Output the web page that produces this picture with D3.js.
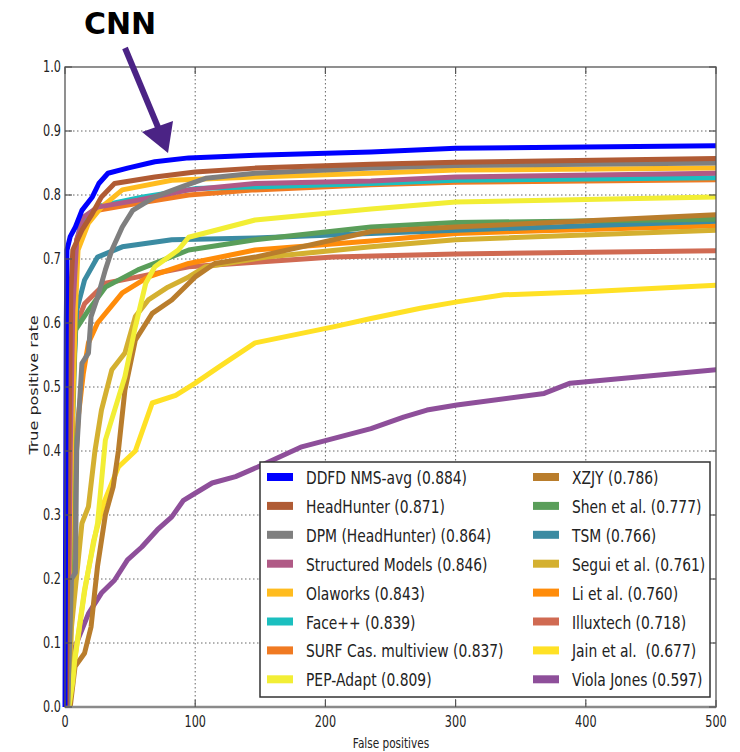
<!DOCTYPE html>
<html>
<head>
<meta charset="utf-8">
<script src="https://cdn.jsdelivr.net/npm/d3@7"></script>
<style>
  body { margin: 0; background: #fff; }
  text { font-family: "DejaVu Sans", sans-serif; fill: #222; }
</style>
</head>
<body>
<div id="container"></div>
<script>
// method names and their scores, in legend order
const methods = ["DDFD NMS-avg", "HeadHunter", "DPM (HeadHunter)", "Structured Models",
  "Olaworks", "Face++", "SURF Cas. multiview", "PEP-Adapt",
  "XZJY", "Shen et al.", "TSM", "Segui et al.",
  "Li et al.", "Illuxtech", "Jain et al. ", "Viola Jones"];
const scores = ["0.884", "0.871", "0.864", "0.846", "0.843", "0.839", "0.837", "0.809",
  "0.786", "0.777", "0.766", "0.761", "0.760", "0.718", "0.677", "0.597"];
const colors = ["#0000ff", "#b05b34", "#7f7f7f", "#b05a86", "#ffbc1f", "#1bbfbf", "#f07a22", "#f2ee35",
  "#b97d2c", "#5a9e5a", "#3b8ba2", "#d4b030", "#ff8c0a", "#d06a52", "#ffe125", "#8e4f9a"];

const xTicks = [0, 100, 200, 300, 400, 500];
const yTicks = [0, 0.1, 0.2, 0.3, 0.4, 0.5, 0.6, 0.7, 0.8, 0.9, 1.0];

// [false positives, true positive rate]
const ddfdCurve = [[0,0],[0.5,0.3],[1,0.6],[1.5,0.714],[4,0.735],[8,0.75],[13,0.776],[21,0.797],[26,0.818],[33,0.834],[48,0.842],[69,0.852],[95,0.858],[146,0.862],[235,0.867],[300,0.873],[400,0.875],[500,0.877]];
const headHunterCurve = [[1,0],[3,0.4],[4.5,0.65],[6,0.714],[13,0.745],[21,0.771],[28,0.797],[38,0.818],[69,0.828],[100,0.836],[146,0.842],[235,0.848],[300,0.851],[500,0.857]];
const dpmCurve = [[2,0],[4,0.13],[5,0.2],[8,0.21],[9,0.4],[13,0.537],[18,0.553],[20,0.61],[25,0.64],[31,0.683],[36,0.714],[44,0.75],[52,0.776],[69,0.797],[90,0.813],[108,0.826],[146,0.834],[235,0.842],[300,0.846],[500,0.85]];
const structuredCurve = [[2,0],[4,0.4],[6,0.62],[9,0.73],[14,0.765],[25,0.781],[56,0.792],[95,0.808],[146,0.818],[235,0.822],[300,0.828],[500,0.834]];
const olaworksCurve = [[2,0],[5,0.4],[8,0.62],[10,0.714],[18,0.756],[28,0.781],[44,0.808],[82,0.823],[146,0.828],[235,0.834],[300,0.839],[500,0.842]];
const faceppCurve = [[2,0],[4,0.5],[7,0.7],[12,0.755],[25,0.782],[60,0.797],[100,0.81],[235,0.818],[300,0.823],[500,0.827]];
const surfCurve = [[1,0],[3,0.4],[5,0.65],[9,0.73],[16,0.765],[25,0.776],[56,0.787],[95,0.8],[146,0.808],[235,0.816],[300,0.82],[500,0.824]];
const pepCurve = [[3,0],[6,0.04],[7.7,0.078],[15,0.183],[25,0.287],[31,0.417],[46,0.516],[54,0.594],[62,0.662],[69,0.688],[87,0.714],[95,0.734],[146,0.761],[235,0.778],[300,0.789],[500,0.797]];
const xzjyCurve = [[4,0],[7.7,0.063],[15,0.084],[20,0.125],[23,0.183],[25,0.22],[31,0.3],[37,0.344],[41,0.4],[46,0.495],[54,0.573],[67,0.615],[82,0.636],[100,0.672],[115,0.693],[146,0.703],[235,0.743],[300,0.75],[500,0.769]];
const shenCurve = [[2,0],[4,0.2],[6,0.45],[8,0.589],[18,0.62],[31,0.656],[56,0.683],[95,0.714],[146,0.73],[235,0.75],[300,0.757],[500,0.762]];
const tsmCurve = [[2,0],[4,0.3],[6,0.5],[9,0.62],[15,0.667],[25,0.703],[44,0.719],[82,0.73],[146,0.733],[235,0.74],[300,0.745],[500,0.759]];
const seguiCurve = [[3,0],[5,0.125],[13,0.287],[18,0.313],[23,0.4],[28,0.464],[36,0.527],[46,0.553],[54,0.61],[64,0.636],[79,0.656],[95,0.672],[108,0.688],[155,0.703],[235,0.719],[300,0.73],[500,0.745]];
const liCurve = [[2,0],[4,0.2],[7,0.33],[10,0.45],[14,0.52],[18,0.569],[25,0.6],[44,0.647],[64,0.672],[95,0.693],[146,0.714],[235,0.728],[300,0.74],[500,0.752]];
const illuxtechCurve = [[1,0],[3,0.3],[5,0.5],[8,0.594],[15,0.63],[31,0.662],[56,0.672],[95,0.688],[146,0.695],[206,0.703],[300,0.708],[500,0.713]];
const jainCurve = [[3,0],[8,0.08],[15,0.18],[22,0.26],[30,0.32],[41,0.375],[54,0.4],[67,0.475],[85,0.487],[100,0.506],[118,0.531],[146,0.569],[206,0.594],[235,0.607],[273,0.623],[301,0.633],[337,0.644],[401,0.649],[500,0.659]];
const violaCurve = [[3,0],[5,0.05],[7.7,0.094],[18,0.146],[28,0.178],[38,0.198],[48,0.23],[59,0.25],[71,0.277],[82,0.297],[91,0.323],[100,0.334],[113,0.35],[131,0.36],[148,0.375],[181,0.406],[235,0.435],[260,0.453],[278,0.464],[301,0.472],[368,0.49],[388,0.506],[500,0.527]];

const curves = [ddfdCurve, headHunterCurve, dpmCurve, structuredCurve, olaworksCurve, faceppCurve,
  surfCurve, pepCurve, xzjyCurve, shenCurve, tsmCurve, seguiCurve, liCurve, illuxtechCurve,
  jainCurve, violaCurve];

const width = 740;
const height = 752;
const plotLeft = 65, plotRight = 716, plotTop = 67, plotBottom = 707;
const squeeze = 0.75; // the original figure text is narrowed horizontally

const x = d3.scaleLinear().domain([0, 500]).range([plotLeft, plotRight]);
const y = d3.scaleLinear().domain([0, 1]).range([plotBottom, plotTop]);

const svg = d3.select("#container")
  .append("svg")
  .attr("width", width)
  .attr("height", height);

// text helper, narrowed horizontally
function label(g, tx, ty, str, size, anchor, rotate) {
  return g.append("text")
    .attr("transform", `translate(${tx},${ty})` + (rotate ? ` rotate(${rotate}) scale(1,${squeeze})` : ` scale(${squeeze},1)`))
    .attr("font-size", size)
    .attr("text-anchor", anchor)
    .style("white-space", "pre")
    .text(str);
}

svg.append("defs").append("clipPath").attr("id", "plotclip")
  .append("rect")
  .attr("x", plotLeft - 4).attr("y", plotTop)
  .attr("width", plotRight - plotLeft + 4).attr("height", plotBottom - plotTop);

// grid
const grid = svg.append("g")
  .attr("stroke", "#666")
  .attr("stroke-width", 1)
  .attr("stroke-dasharray", "1.5,2.5");
xTicks.slice(1, -1).forEach(t => {
  grid.append("line").attr("x1", x(t)).attr("x2", x(t)).attr("y1", plotTop).attr("y2", plotBottom);
});
yTicks.slice(1, -1).forEach(t => {
  grid.append("line").attr("x1", plotLeft).attr("x2", plotRight).attr("y1", y(t)).attr("y2", y(t));
});

// curves, last method drawn first
const line = d3.line().x(d => x(d[0])).y(d => y(d[1]));
const plot = svg.append("g").attr("clip-path", "url(#plotclip)");
for (let i = curves.length - 1; i >= 0; i--) {
  plot.append("path")
    .datum(curves[i])
    .attr("d", line)
    .attr("fill", "none")
    .attr("stroke", colors[i])
    .attr("stroke-width", 5)
    .attr("stroke-linejoin", "round")
    .attr("stroke-linecap", "round");
}

// frame and inward ticks
svg.append("rect")
  .attr("x", plotLeft).attr("y", plotTop)
  .attr("width", plotRight - plotLeft).attr("height", plotBottom - plotTop)
  .attr("fill", "none").attr("stroke", "#555").attr("stroke-width", 1.3);
svg.append("line")
  .attr("x1", plotLeft).attr("x2", plotRight).attr("y1", plotBottom).attr("y2", plotBottom)
  .attr("stroke", "#8a8a8a").attr("stroke-width", 2.5);
const ticks = svg.append("g").attr("stroke", "#555").attr("stroke-width", 1.2);
xTicks.forEach(t => {
  ticks.append("line").attr("x1", x(t)).attr("x2", x(t)).attr("y1", plotBottom).attr("y2", plotBottom - 7);
  ticks.append("line").attr("x1", x(t)).attr("x2", x(t)).attr("y1", plotTop).attr("y2", plotTop + 7);
});
yTicks.forEach(t => {
  ticks.append("line").attr("x1", plotLeft).attr("x2", plotLeft + 7).attr("y1", y(t)).attr("y2", y(t));
  ticks.append("line").attr("x1", plotRight).attr("x2", plotRight - 7).attr("y1", y(t)).attr("y2", y(t));
});

// tick labels
xTicks.forEach(t => label(svg, x(t), plotBottom + 20, String(t), 15, "middle"));
yTicks.forEach(t => label(svg, plotLeft - 4, y(t) + 5, t.toFixed(1), 15, "end"));

// axis titles
label(svg, 391, 748, "False positives", 14, "middle");
label(svg, 38, 385, "True positive rate", 16, "middle", -90);

// legend
const legend = svg.append("g");
legend.append("rect")
  .attr("x", 260).attr("y", 462)
  .attr("width", 450).attr("height", 235)
  .attr("fill", "#fff").attr("stroke", "#333").attr("stroke-width", 1.5);
methods.forEach((m, i) => {
  const col = Math.floor(i / 8);
  const row = i % 8;
  const sx = 267 + col * 266;
  const cy = 477 + row * 28.9;
  legend.append("rect")
    .attr("x", sx).attr("y", cy - 4)
    .attr("width", 26).attr("height", 8)
    .attr("fill", colors[i]);
  label(legend, sx + 39, cy + 7, `${m} (${scores[i]})`, 18.5, "start");
});

// CNN annotation
svg.append("text")
  .attr("x", 84).attr("y", 34)
  .attr("font-family", "Liberation Sans, Arial, sans-serif")
  .attr("font-weight", "bold")
  .attr("font-size", 30)
  .style("fill", "#000")
  .text("CNN");
svg.append("line")
  .attr("x1", 125).attr("y1", 48).attr("x2", 160).attr("y2", 132)
  .attr("stroke", "#4b2385").attr("stroke-width", 6);
svg.append("path")
  .attr("d", "M168,153 L142,132 L173,121 Z")
  .attr("fill", "#4b2385");
</script>
</body>
</html>
